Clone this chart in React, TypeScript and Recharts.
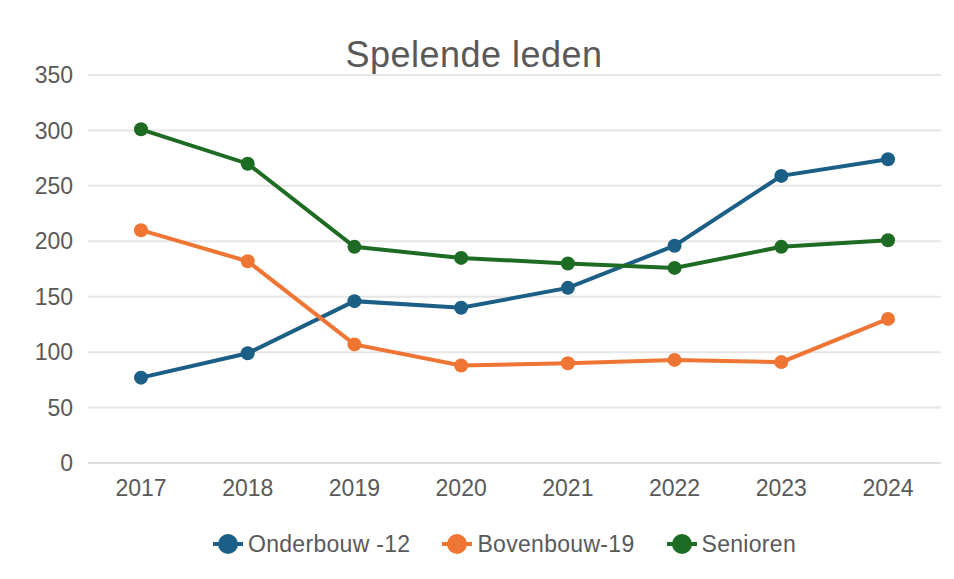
import { CartesianGrid, Line, LineChart, XAxis, YAxis } from 'recharts';

const years = ['2017', '2018', '2019', '2020', '2021', '2022', '2023', '2024'];
const onderbouw = [77, 99, 146, 140, 158, 196, 259, 274];
const bovenbouw = [210, 182, 107, 88, 90, 93, 91, 130];
const senioren = [301, 270, 195, 185, 180, 176, 195, 201];
const yTicks = [0, 50, 100, 150, 200, 250, 300, 350];

const series = [
  { key: 'onderbouw', name: 'Onderbouw -12', color: '#1b5f86' },
  { key: 'bovenbouw', name: 'Bovenbouw-19', color: '#ee7533' },
  { key: 'senioren', name: 'Senioren', color: '#1e6c24' },
];

const data = years.map((year, i) => ({
  year,
  onderbouw: onderbouw[i],
  bovenbouw: bovenbouw[i],
  senioren: senioren[i],
}));

const font = '"Liberation Sans", Arial, sans-serif';
const tickStyle = { fontSize: 23, fill: '#595959', fontFamily: font };

export default function App() {
  return (
    <div
      style={{
        position: 'relative',
        width: 954,
        height: 579,
        margin: '-8px 0 0 -8px',
        overflow: 'hidden',
        background: '#fff',
        fontFamily: font,
      }}
    >
      <div
        style={{
          position: 'absolute',
          left: 3,
          top: 3,
          width: 980,
          height: 620,
          border: '2px solid #ebebeb',
        }}
      />
      <div
        style={{
          position: 'absolute',
          left: 0,
          top: 37,
          width: 948,
          textAlign: 'center',
          fontSize: 36,
          lineHeight: '36px',
          color: '#595959',
          letterSpacing: 0.5,
        }}
      >
        Spelende leden
      </div>
      <div style={{ position: 'absolute', left: 0, top: 0 }}>
        <LineChart
          width={954}
          height={579}
          data={data}
          margin={{ top: 75, right: 13, left: 0, bottom: 76 }}
        >
          <CartesianGrid vertical={false} stroke='#e6e6e6' strokeWidth={2} />
          <XAxis
            dataKey='year'
            height={40}
            padding={{ left: 53, right: 53 }}
            tickLine={false}
            tickMargin={11}
            axisLine={{ stroke: '#dedede', strokeWidth: 2 }}
            tick={tickStyle}
          />
          <YAxis
            width={88}
            domain={[0, 350]}
            ticks={yTicks}
            axisLine={false}
            tickLine={false}
            tickMargin={9}
            tick={tickStyle}
          />
          {series.map((s) => (
            <Line
              key={s.key}
              type='linear'
              dataKey={s.key}
              name={s.name}
              stroke={s.color}
              strokeWidth={4}
              dot={{ r: 7, fill: s.color, stroke: 'none' }}
              activeDot={false}
              isAnimationActive={false}
            />
          ))}
        </LineChart>
      </div>
      <div
        style={{
          position: 'absolute',
          left: 213,
          top: 530,
          height: 28,
          display: 'flex',
          alignItems: 'center',
          fontSize: 23,
          color: '#595959',
          letterSpacing: 0.3,
        }}
      >
        {series.map((s) => (
          <div key={s.key} style={{ display: 'flex', alignItems: 'center', marginRight: 32 }}>
            <svg width={30} height={24} style={{ marginRight: 5 }}>
              <line x1={0} y1={12} x2={30} y2={12} stroke={s.color} strokeWidth={4} />
              <circle cx={15} cy={12} r={10} fill={s.color} />
            </svg>
            <span>{s.name}</span>
          </div>
        ))}
      </div>
    </div>
  );
}
